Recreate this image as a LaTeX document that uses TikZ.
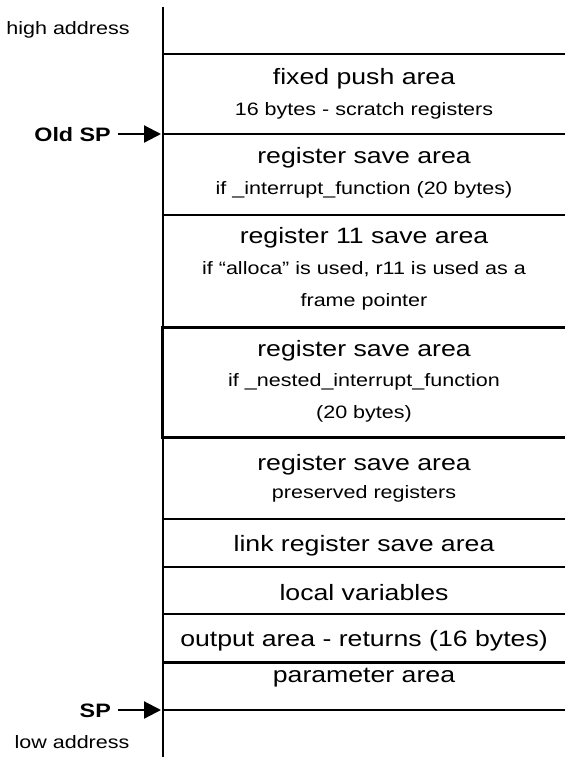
\documentclass[tikz,border=0pt]{standalone}
\usepackage{fontspec}
\setmainfont{Liberation Sans}[FakeStretch=1.2]
\usetikzlibrary{arrows.meta}

\begin{document}
\begin{tikzpicture}[
    x=1bp, y=-1bp,
    title/.style={
        inner sep=0pt,
        align=center,
        anchor=center,
        font=\fontsize{22.3}{26}\selectfont
    },
    note/.style={
        inner sep=0pt,
        align=center,
        anchor=center,
        font=\fontsize{18}{32}\selectfont
    },
    frame/.style={line width=2.4bp},
    ptr/.style={-{Triangle[length=17bp,width=17bp]}, line width=2.2bp}
]
\useasboundingbox (0,0) rectangle (565,757);

% Stack frame outline
\draw[frame] (163,7) -- (163,757);
\foreach \y in {54,134,215,519,567,614,710}
    \draw[frame] (163,\y) -- (565,\y);
\draw[frame, line width=3bp] (162,327) rectangle (567,437);
\draw[frame, line width=3bp] (162,662) -- (567,662);

% Areas, top to bottom
\node[title] (fixed)   at (364,79)  {fixed push area};
\node[note]  (fixedn)  at (364,111) {16 bytes - scratch registers};

\node[title] (isave)   at (364,158) {register save area};
\node[note]  (isaven)  at (364,190) {if \_interrupt\_function (20 bytes)};

\node[title] (rsave)   at (364,238) {register 11 save area};
\node[note]  (rsaven)  at (364,286) {if “alloca” is used, r11 is used as a\\frame pointer};

\node[title] (nsave)   at (364,351) {register save area};
\node[note]  (nsaven)  at (364,398) {if \_nested\_interrupt\_function\\(20 bytes)};

\node[title] (psave)   at (364,465) {register save area};
\node[note]  (psaven)  at (364,494) {preserved registers};

\node[title] (lrsave)  at (364,546) {link register save area};
\node[title] (locals)  at (364,593) {local variables};
\node[title] (output)  at (364,641) {output area - returns (16 bytes)};
\node[title] (params)  at (364,678) {parameter area};

% Address labels and stack pointers
\node[note] (high) at (68,30)  {high address};
\node[note] (low)  at (72,742) {low address};

\node[note, anchor=east, font=\fontsize{19.5}{22}\bfseries] (oldsp) at (111,135) {Old SP};
\node[note, anchor=east, font=\fontsize{19.5}{22}\bfseries] (sp)    at (111,711) {SP};
\coordinate (oldsptip) at (161,134);
\coordinate (sptip)    at (161,710);

\draw[ptr] (oldsp.east |- oldsptip) ++(7,0) -- (oldsptip);
\draw[ptr] (sp.east |- sptip) ++(7,0) -- (sptip);

\end{tikzpicture}
\end{document}
